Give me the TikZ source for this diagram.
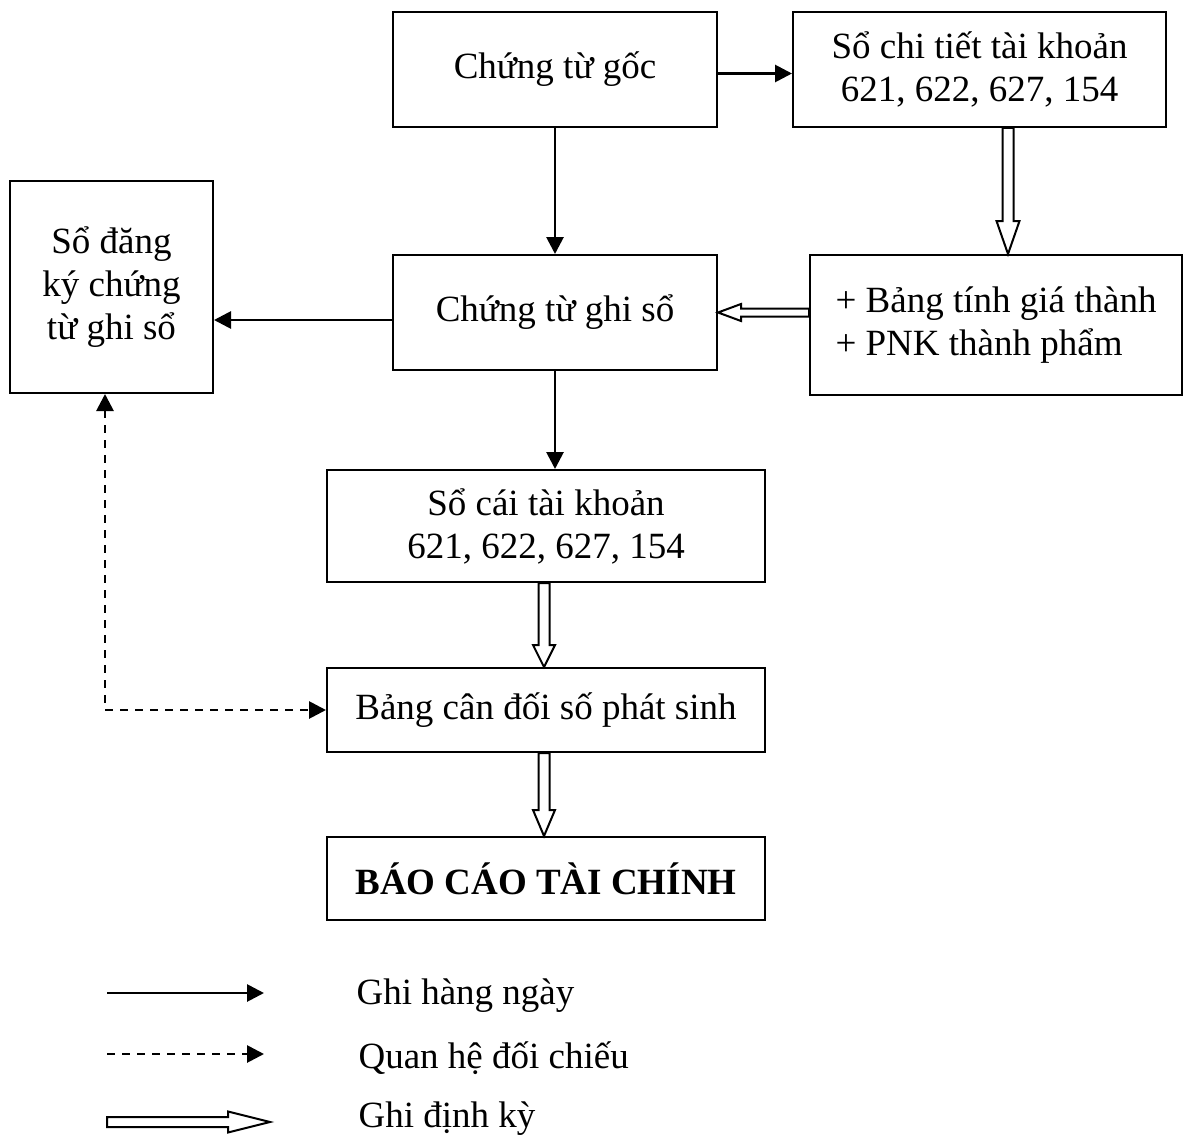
\documentclass[tikz,border=0pt]{standalone}
\usepackage{fontspec}
\setmainfont{Liberation Serif}
\usetikzlibrary{calc,arrows.meta}

\tikzset{
  txt/.style={font=\fontsize{37}{43}\selectfont},
  box/.style={txt, draw, line width=2pt, rectangle, align=center, inner sep=0pt},
  tip/.style={Triangle[length=17pt,width=17pt]},
  daily/.style={line width=2.8pt, -{Triangle[length=17pt,width=17pt]}},
  dashline/.style={line width=2.8pt, dash pattern=on 8pt off 7pt},
  compare/.style={dashline, {Triangle[length=17pt,width=17pt]}-{Triangle[length=17pt,width=17pt]}},
  % hollow block arrow: shaft half-width / head half-width / head length
  hollow/.style args={#1/#2/#3}{line width=2pt, line join=miter, to path={
    ($(\tikztostart)!#1pt!90:(\tikztotarget)$)
    -- ($(\tikztotarget)!#3pt!(\tikztostart)!#1pt!-90:(\tikztostart)$)
    -- ($(\tikztotarget)!#3pt!(\tikztostart)!#2pt!-90:(\tikztostart)$)
    -- (\tikztotarget)
    -- ($(\tikztotarget)!#3pt!(\tikztostart)!#2pt!90:(\tikztostart)$)
    -- ($(\tikztotarget)!#3pt!(\tikztostart)!#1pt!90:(\tikztostart)$)
    -- ($(\tikztostart)!#1pt!-90:(\tikztotarget)$)
    -- cycle}},
}

\begin{document}
\begin{tikzpicture}[x=1pt,y=-1pt]
\useasboundingbox (0,0) rectangle (1188,1142);

% boxes
\node[box, minimum width=324pt, minimum height=115pt] (goc) at (555,69.5) {Chứng từ gốc};
\node[box, minimum width=373pt, minimum height=115pt] (chitiet) at (979.5,69.5) {Sổ chi tiết tài khoản\\621, 622, 627, 154};
\node[box, minimum width=203pt, minimum height=212pt] (dangky) at (111.5,287) {Sổ đăng\\ký chứng\\từ ghi sổ};
\node[box, minimum width=324pt, minimum height=115pt] (ghiso) at (555,312.5) {Chứng từ ghi sổ};
\node[box, minimum width=372pt, minimum height=140pt, align=left] (giathanh) at (996,325) {+ Bảng tính giá thành\\+ PNK thành phẩm};
\node[box, minimum width=438pt, minimum height=112pt] (socai) at (546,526) {Sổ cái tài khoản\\621, 622, 627, 154};
\node[box, minimum width=438pt, minimum height=84pt] (candoi) at (546,710) {Bảng cân đối số phát sinh};
\node[box, minimum width=438pt, minimum height=83pt] (baocao) at (546,878.5) {\textbf{BÁO CÁO TÀI CHÍNH}};

% daily postings
\draw[daily] ([yshift=-4pt]goc.east) -- ([yshift=-4pt]chitiet.west);
\draw[daily] (goc.south) -- (ghiso.north);
\draw[daily] ([yshift=-7.5pt]ghiso.west) -- ([yshift=-33pt]dangky.east);
\draw[daily] (ghiso.south) -- (ghiso.south |- socai.north);

% periodic postings
\draw[hollow=5.5/11.5/33] ([xshift=28.5pt]chitiet.south) to ([xshift=12pt]giathanh.north);
\draw[hollow=4/8.5/23] (giathanh.west |- ghiso.east) to (ghiso.east);
\draw[hollow=5.5/11/22] ([xshift=-2pt]socai.south) to ([xshift=-2pt]candoi.north);
\draw[hollow=5.5/11/26] ([xshift=-2pt]candoi.south) to ([xshift=-2pt]baocao.north);

% cross-check
\draw[compare] ([xshift=-6.5pt]dangky.south) |- (candoi.west);

% legend
\coordinate (l1a) at (107,993);
\coordinate (l1b) at (264,993);
\coordinate (l2a) at (107,1054);
\coordinate (l2b) at (264,1054);
\coordinate (l3a) at (107,1122);
\coordinate (l3b) at (270,1122);
\draw[daily] (l1a) -- (l1b);
\draw[dashline, -{Triangle[length=17pt,width=17pt]}] (l2a) -- (l2b);
\draw[hollow=5/10.5/42] (l3a) to (l3b);
\node[txt, anchor=west] (t1) at (353,996) {Ghi hàng ngày};
\node[txt, anchor=west] (t2) at (355,1058) {Quan hệ đối chiếu};
\node[txt, anchor=west] (t3) at (355,1119) {Ghi định kỳ};
\end{tikzpicture}
\end{document}
